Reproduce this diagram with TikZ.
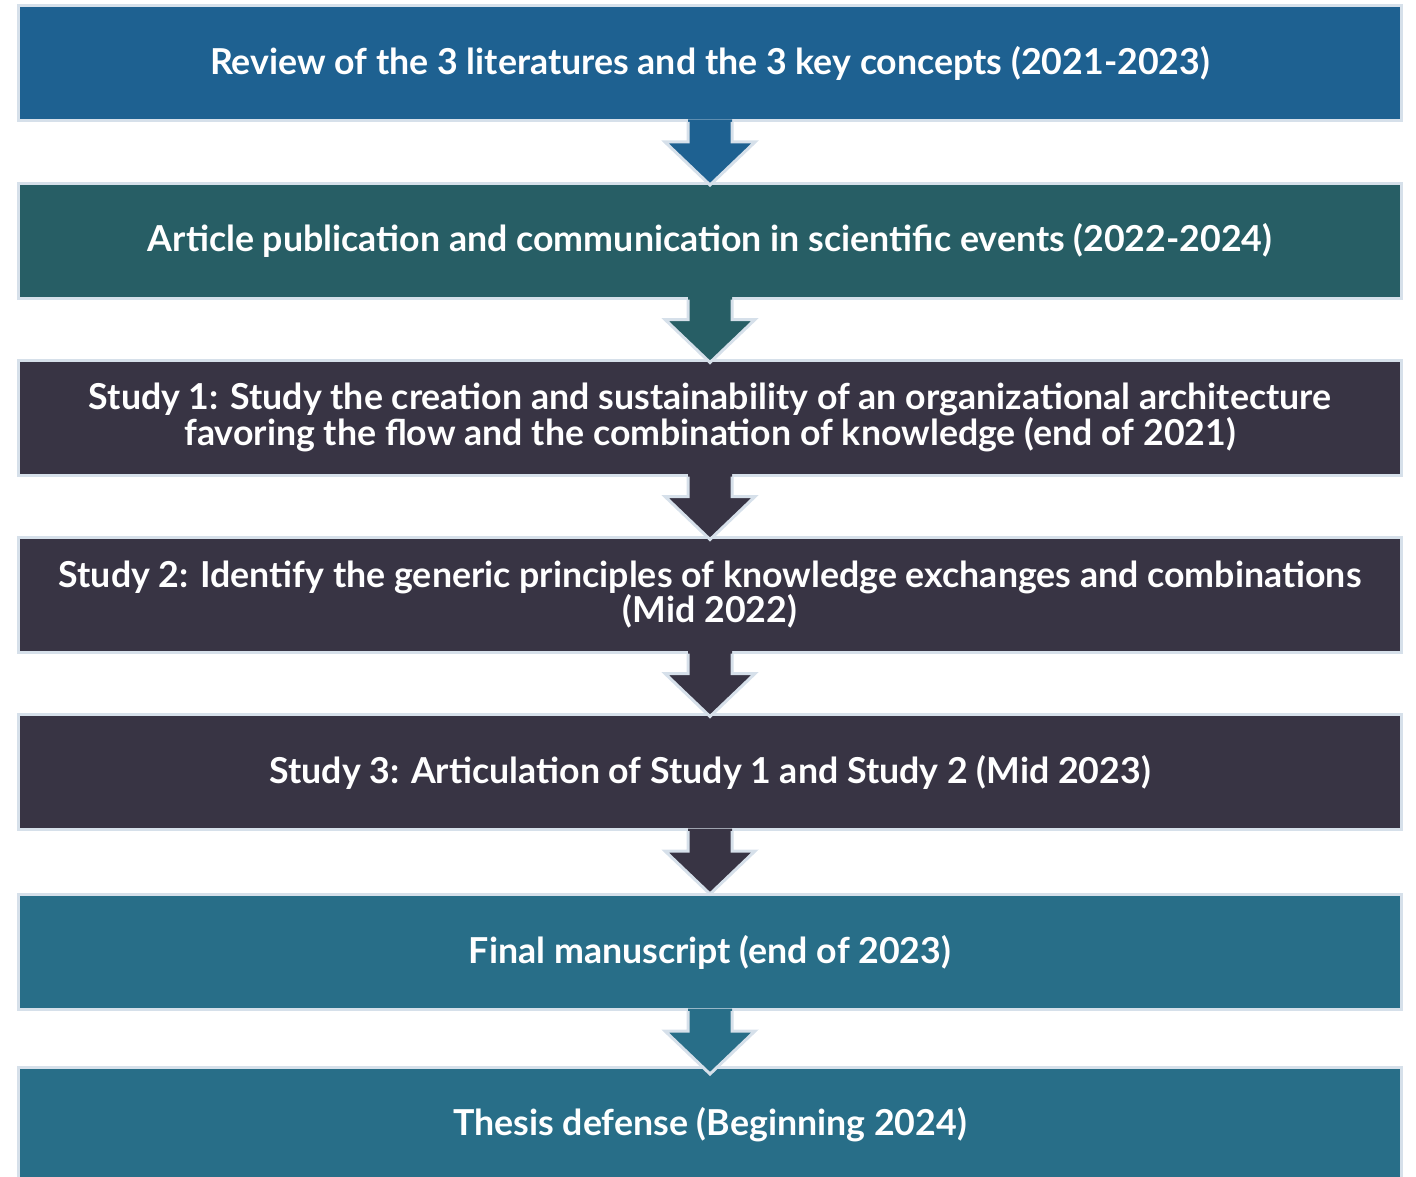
\documentclass[tikz,border=0pt]{standalone}
\usepackage{fontspec}
\setmainfont{Lato}
\usetikzlibrary{calc}
\definecolor{cblue}{RGB}{30,97,145}
\definecolor{cteal}{RGB}{39,94,101}
\definecolor{cdark}{RGB}{56,52,68}
\definecolor{cpetrol}{RGB}{40,110,136}
\definecolor{cborder}{RGB}{214,224,234}
\newcommand\flowarrow[2]{%
  \fill[#2] ($(#1.south)+(-22,-2.5)$) -- ($(#1.south)+(-22,20)$) -- ($(#1.south)+(-45,20)$) --
    ($(#1.south)+(0,63)$) -- ($(#1.south)+(45,20)$) -- ($(#1.south)+(22,20)$) --
    ($(#1.south)+(22,-2.5)$) -- cycle;
  \draw[arrowline] ($(#1.south)+(-22,0)$) -- ($(#1.south)+(-22,20)$) -- ($(#1.south)+(-45,20)$) --
    ($(#1.south)+(0,63)$) -- ($(#1.south)+(45,20)$) -- ($(#1.south)+(22,20)$) --
    ($(#1.south)+(22,0)$);}
\begin{document}
\begin{tikzpicture}[x=0.75pt,y=-0.75pt,
  box/.style={draw=cborder, line width=2.25pt, minimum width=1037.25pt, minimum height=86.25pt,
    inner sep=0pt, text=white, align=center,
    font=\fontsize{26.8}{25.5}\selectfont\bfseries},
  arrowline/.style={draw=cborder, line width=2.25pt, line join=miter}]
\useasboundingbox (0,0) rectangle (1416,1177);
\node[box, fill=cblue] (b1) at (710,63) {Review of the 3 literatures and the 3 key concepts (2021-2023)};
\node[box, fill=cteal] (b2) at (710,240.5) {Article publication and communication in scientific events (2022-2024)};
\node[box, fill=cdark] (b3) at (710,417.5) {Study 1: Study the creation and sustainability of an organizational architecture\\favoring the flow and the combination of knowledge (end of 2021)};
\node[box, fill=cdark] (b4) at (710,594.5) {Study 2: Identify the generic principles of knowledge exchanges and combinations\\(Mid 2022)};
\node[box, fill=cdark] (b5) at (710,772) {Study 3: Articulation of Study 1 and Study 2 (Mid 2023)};
\node[box, fill=cpetrol] (b6) at (710,952) {Final manuscript (end of 2023)};
\node[box, fill=cpetrol] (b7) at (710,1125) {Thesis defense (Beginning 2024)};
\flowarrow{b1}{cblue}
\flowarrow{b2}{cteal}
\flowarrow{b3}{cdark}
\flowarrow{b4}{cdark}
\flowarrow{b5}{cdark}
\flowarrow{b6}{cpetrol}
\end{tikzpicture}
\end{document}
